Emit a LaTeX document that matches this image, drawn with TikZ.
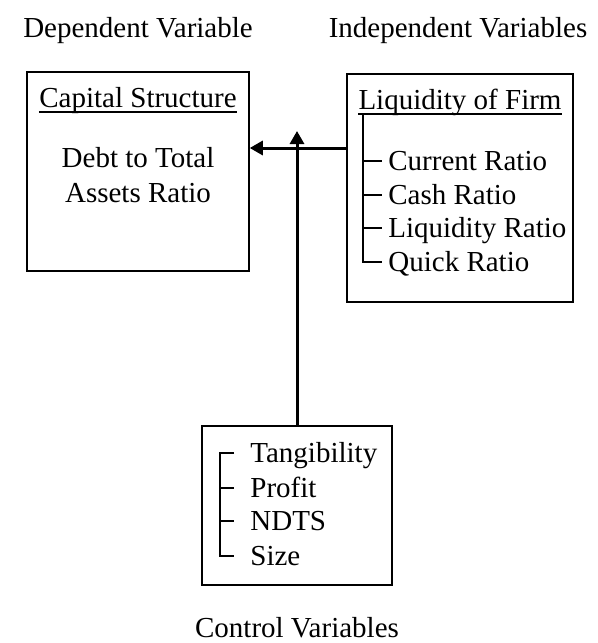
\documentclass[tikz,border=0pt]{standalone}
\usepackage{fontspec}
\setmainfont{Liberation Serif}
\usetikzlibrary{arrows.meta,positioning}

\begin{document}
\begin{tikzpicture}[x=0.5pt, y=-0.5pt,
  font=\fontsize{14.5}{17.8}\selectfont,
  box/.style={draw, line width=0.75pt, inner sep=0pt},
  ttl/.style={inner sep=0pt, text depth=2.3pt, anchor=base},
  item/.style={inner xsep=3pt, inner ysep=0pt, text height=9pt, text depth=0pt, anchor=west},
  brk/.style={line width=0.7pt},
  uline/.style={line width=1.1pt},
  arr/.style={-{Triangle[length=6.5pt, width=7pt]}, line width=1.5pt},
]
\useasboundingbox (0,0) rectangle (598,643);

% headings
\node (dep)   at (138,31)  {Dependent Variable};
\node (indep) at (458,31)  {Independent Variables};
\node (ctlvar) at (297,628) {Control Variables};

% dependent variable
\node[box, minimum width=111pt, minimum height=99.5pt] (cap) at (138,171.5) {};
\node[ttl] (captitle) at (138,107) {Capital Structure};
\draw[uline] (captitle.south west) -- (captitle.south east);
\node[align=center] (capdv) at (138,175) {Debt to Total\\Assets Ratio};

% liquidity of firm
\node[box, minimum width=113pt, minimum height=114pt] (liq) at (460,188) {};
\node[ttl] (liqtitle) at (460,109) {Liquidity of Firm};
\draw[uline] (liqtitle.south west) -- (liqtitle.south east);
\coordinate (liqtop) at (363,114);
\node[item] (cur)  at (382,161) {Current Ratio};
\node[item] (cash) at (382,195) {Cash Ratio};
\node[item] (lqr)  at (382,228) {Liquidity Ratio};
\node[item] (qck)  at (382,262) {Quick Ratio};
\draw[brk] (liqtop) -- (liqtop |- qck.west) -- (qck.west);
\foreach \n in {cur,cash,lqr}
  \draw[brk] (liqtop |- \n.west) -- (\n.west);

% control variables
\node[box, minimum width=95pt, minimum height=79.5pt] (ctl) at (297,505.5) {};
\node[item, inner xsep=8pt] (tang) at (234,453) {Tangibility};
\node[item, inner xsep=8pt] (prof) at (234,488) {Profit};
\node[item, inner xsep=8pt] (ndts) at (234,521) {NDTS};
\node[item, inner xsep=8pt] (size) at (234,556) {Size};
\coordinate (ctlbar) at (220,453);
\draw[brk] (tang.west) -- (ctlbar) -- (ctlbar |- size.west) -- (size.west);
\foreach \n in {prof,ndts}
  \draw[brk] (ctlbar |- \n.west) -- (\n.west);

% connectors
\coordinate (hline) at (0,148);
\coordinate (vtip) at (297,131);
\draw[arr] (liq.west |- hline) -- (cap.east |- hline);
\draw[arr] (ctl.north) -- (vtip);
\end{tikzpicture}
\end{document}
